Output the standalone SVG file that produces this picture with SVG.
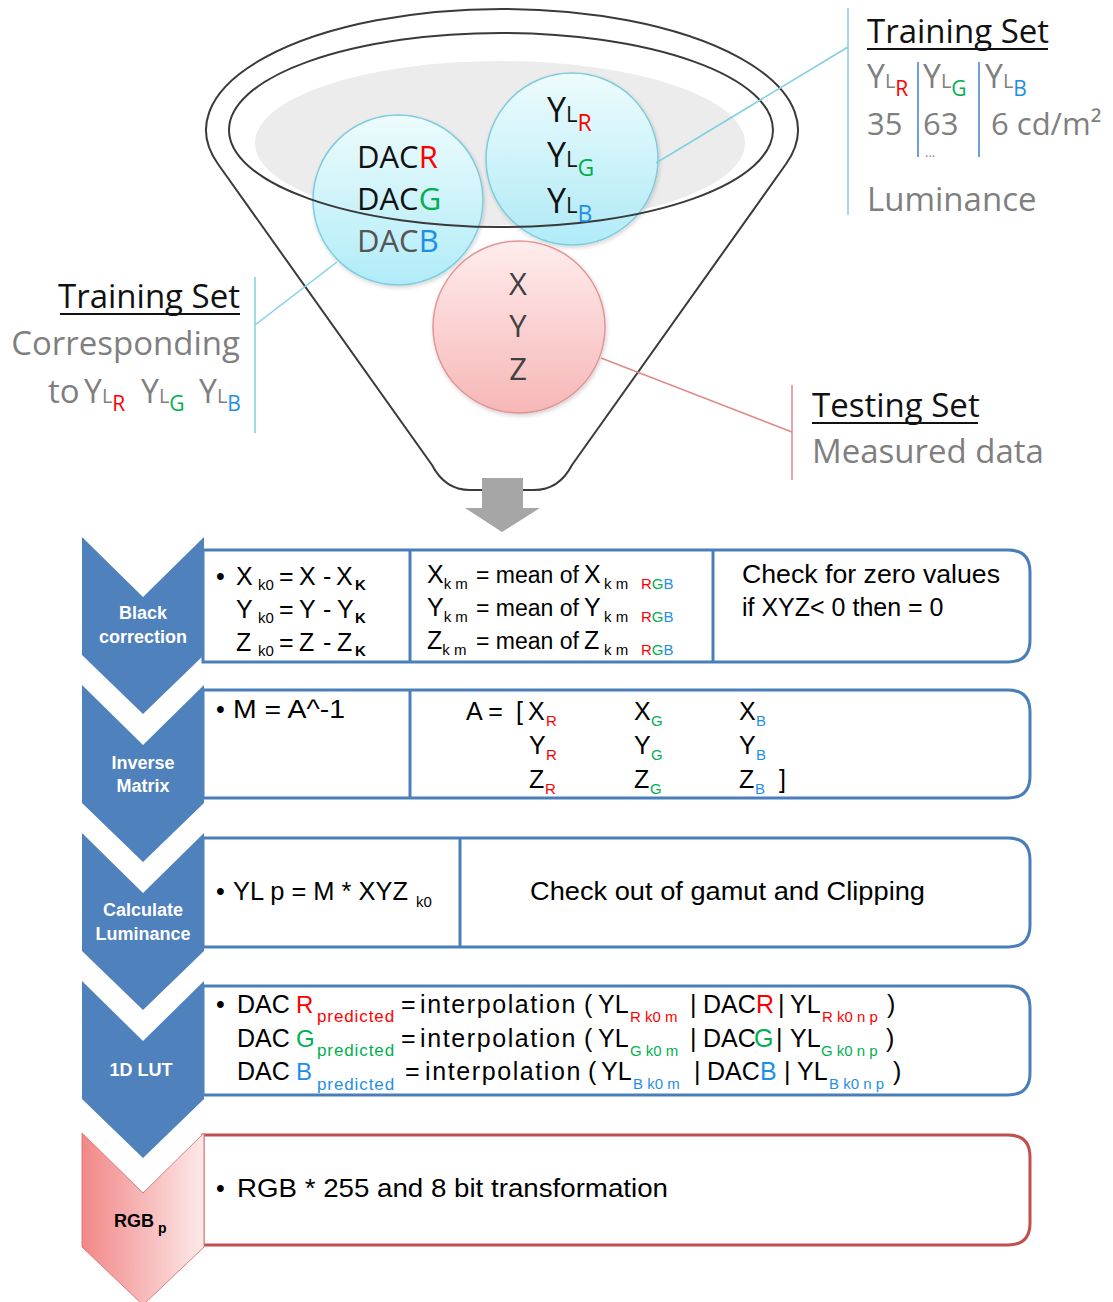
<svg xmlns="http://www.w3.org/2000/svg" width="1113" height="1302" viewBox="0 0 1113 1302">
<defs>
  <linearGradient id="cyan" x1="0" y1="0" x2="0" y2="1">
    <stop offset="0" stop-color="#eefeff"/>
    <stop offset="1" stop-color="#aaeaf8"/>
  </linearGradient>
  <linearGradient id="pink" x1="0" y1="0" x2="0" y2="1">
    <stop offset="0" stop-color="#ffecec"/>
    <stop offset="1" stop-color="#f6b7b7"/>
  </linearGradient>
  <linearGradient id="pinkChev" x1="0" y1="0" x2="1" y2="0">
    <stop offset="0" stop-color="#f28787"/>
    <stop offset="1" stop-color="#fde9e9"/>
  </linearGradient>
  <filter id="sh" x="-20%" y="-20%" width="140%" height="140%">
    <feDropShadow dx="1" dy="2" stdDeviation="2" flood-color="#000" flood-opacity="0.18"/>
  </filter>
</defs>
<style>
  .os{font-family:"Open Sans","Liberation Sans",sans-serif}
  .f{font-family:"Liberation Sans",Arial,sans-serif;font-size:25px;fill:#000}
  .s{font-size:15px}
  .pr{font-size:17px;letter-spacing:0.9px}
  .ip{letter-spacing:1.6px}
  .mo{font-size:23px}
  .cw{font-family:"Liberation Sans",Arial,sans-serif;font-weight:bold;font-size:18px;fill:#fff;text-anchor:middle}
  .r{fill:#ff0000}
  .g{fill:#00b050}
  .b{fill:#1f8fe5}
  .gray{fill:#7f7f7f}
  .box{fill:#fff;stroke:#4a7ebb;stroke-width:3}
  .rbox{fill:#fff;stroke:#c0504d;stroke-width:3}
  .div{stroke:#4a7ebb;stroke-width:3}
  .chev{fill:#4f81bd}
  .cy{stroke:#7fd0e2;stroke-width:1.5;fill:none}
  .rd{stroke:#e08a8a;stroke-width:1.5;fill:none}
  .sep{stroke:#3f7fcf;stroke-width:1.5}
  .ul{stroke:#111;stroke-width:2.2}
</style>

<g id="funnel">
  <path d="M218,164 A296,121 0 1 1 786,164 L572,465 Q559,490 534,490 L470,490 Q445,490 432,465 Z" fill="#fff" stroke="#3a3a3a" stroke-width="2"/>
  <ellipse cx="500" cy="143" rx="245" ry="82" fill="#ececec"/>
</g>

<g id="circle-dac">
  <circle cx="398" cy="200" r="85" fill="url(#cyan)" stroke="#77c8dc" stroke-width="1.5" opacity="0.92" filter="url(#sh)"/>
</g>
<g id="circle-yl">
  <circle cx="572" cy="159" r="86" fill="url(#cyan)" stroke="#77c8dc" stroke-width="1.5" opacity="0.92" filter="url(#sh)"/>
</g>
<g id="circle-xyz">
  <circle cx="519" cy="327" r="86" fill="url(#pink)" stroke="#e39595" stroke-width="1.5" filter="url(#sh)"/>
</g>

<g id="funnel-rim">
  <ellipse cx="501" cy="130" rx="272" ry="97" fill="none" stroke="#3a3a3a" stroke-width="2"/>
</g>

<g id="circle-texts" class="os">
  <text x="357" y="168" font-size="31" fill="#111">DAC<tspan class="r">R</tspan></text>
  <text x="357" y="210" font-size="31" fill="#111">DAC<tspan class="g">G</tspan></text>
  <text x="357" y="252" font-size="31" fill="#555">DAC<tspan class="b">B</tspan></text>

  <text x="547" y="122" fill="#111"><tspan font-size="34">Y</tspan><tspan font-size="22">L</tspan><tspan font-size="23" dy="9" class="r">R</tspan></text>
  <text x="547" y="167" fill="#111"><tspan font-size="34">Y</tspan><tspan font-size="22">L</tspan><tspan font-size="23" dy="9" class="g">G</tspan></text>
  <text x="547" y="213" fill="#111"><tspan font-size="34">Y</tspan><tspan font-size="22">L</tspan><tspan font-size="23" dy="9" class="b">B</tspan></text>

  <text x="518" y="295" font-size="31" fill="#404040" text-anchor="middle">X</text>
  <text x="518" y="337" font-size="31" fill="#404040" text-anchor="middle">Y</text>
  <text x="518" y="380" font-size="31" fill="#404040" text-anchor="middle">Z</text>
</g>

<g id="connectors">
  <line class="cy" x1="656" y1="163" x2="848" y2="47"/>
  <line class="cy" x1="848" y1="8" x2="848" y2="215"/>
  <line class="cy" x1="337" y1="262" x2="255" y2="325"/>
  <line class="cy" x1="255" y1="277" x2="255" y2="433"/>
  <line class="rd" x1="601" y1="358" x2="792" y2="432"/>
  <line class="rd" x1="792" y1="385" x2="792" y2="480"/>
  <path d="M482,478 H523 V508 H540 L502,532 L465,508 H482 Z" fill="#a6a6a6"/>
</g>

<g id="label-training-top" class="os">
  <text x="867" y="43" font-size="33" fill="#111">Training Set</text>
  <line class="ul" x1="867" y1="49" x2="1048" y2="49"/>
  <text x="867" y="88" class="gray"><tspan font-size="32">Y</tspan><tspan font-size="20">L</tspan><tspan font-size="21" dy="8" class="r">R</tspan></text>
  <text x="923" y="88" class="gray"><tspan font-size="32">Y</tspan><tspan font-size="20">L</tspan><tspan font-size="21" dy="8" class="g">G</tspan></text>
  <text x="985" y="88" class="gray"><tspan font-size="32">Y</tspan><tspan font-size="20">L</tspan><tspan font-size="21" dy="8" class="b">B</tspan></text>
  <line class="sep" x1="918" y1="62" x2="918" y2="157"/>
  <line class="sep" x1="979" y1="62" x2="979" y2="157"/>
  <text x="867" y="135" font-size="31" class="gray">35</text>
  <text x="923" y="135" font-size="31" class="gray">63</text>
  <text x="991" y="135" font-size="31" class="gray">6 cd/m²</text>
  <text x="925" y="157" font-size="13" class="gray">...</text>
  <text x="867" y="211" font-size="33" class="gray">Luminance</text>
</g>

<g id="label-training-left" class="os">
  <text x="240" y="308" font-size="33" fill="#111" text-anchor="end">Training Set</text>
  <line class="ul" x1="60" y1="314" x2="240" y2="314"/>
  <text x="240" y="355" font-size="33" class="gray" text-anchor="end">Corresponding</text>
  <text x="48" y="403" font-size="33" class="gray">to</text>
  <text x="84" y="403" class="gray"><tspan font-size="32">Y</tspan><tspan font-size="20">L</tspan><tspan font-size="21" dy="8" class="r">R</tspan></text>
  <text x="141" y="403" class="gray"><tspan font-size="32">Y</tspan><tspan font-size="20">L</tspan><tspan font-size="21" dy="8" class="g">G</tspan></text>
  <text x="199" y="403" class="gray"><tspan font-size="32">Y</tspan><tspan font-size="20">L</tspan><tspan font-size="21" dy="8" class="b">B</tspan></text>
</g>

<g id="label-testing" class="os">
  <text x="812" y="417" font-size="33" fill="#111">Testing Set</text>
  <line class="ul" x1="812" y1="423" x2="978" y2="423"/>
  <text x="812" y="463" font-size="33" class="gray">Measured data</text>
</g>

<g id="row-black-correction">
  <path class="box" d="M203,550 H1008 Q1030,550 1030,572 V640 Q1030,662 1008,662 H203 Z"/>
  <line class="div" x1="410" y1="550" x2="410" y2="662"/>
  <line class="div" x1="713" y1="550" x2="713" y2="662"/>
  <path class="chev" d="M82,537 L143,597 L204,537 L204,655 L143,714 L82,655 Z"/>
  <text class="cw" x="143" y="619">Black</text>
  <text class="cw" x="143" y="643">correction</text>
  <text class="f" x="216" y="585"><tspan x="216">•</tspan><tspan x="236">X</tspan><tspan class="s" x="258" dy="5">k0</tspan><tspan x="279" dy="-5">=</tspan><tspan x="299">X</tspan><tspan x="323">-</tspan><tspan x="336">X</tspan><tspan class="s" font-weight="bold" x="355" dy="5">K</tspan></text>
  <text class="f" x="236" y="618"><tspan x="236">Y</tspan><tspan class="s" x="258" dy="5">k0</tspan><tspan x="279" dy="-5">=</tspan><tspan x="299">Y</tspan><tspan x="323">-</tspan><tspan x="337">Y</tspan><tspan class="s" font-weight="bold" x="355" dy="5">K</tspan></text>
  <text class="f" x="236" y="651"><tspan x="236">Z</tspan><tspan class="s" x="258" dy="5">k0</tspan><tspan x="279" dy="-5">=</tspan><tspan x="299">Z</tspan><tspan x="323">-</tspan><tspan x="337">Z</tspan><tspan class="s" font-weight="bold" x="355" dy="5">K</tspan></text>

  <text class="f" x="427" y="583" font-size="24">X<tspan class="s" dy="6">k m</tspan><tspan class="mo" x="476" dy="-6">= mean of</tspan><tspan x="584">X</tspan><tspan class="s" x="604" dy="6">k m</tspan><tspan class="s r" x="641">R</tspan><tspan class="s g">G</tspan><tspan class="s b">B</tspan></text>
  <text class="f" x="427" y="616" font-size="24">Y<tspan class="s" dy="6">k m</tspan><tspan class="mo" x="476" dy="-6">= mean of</tspan><tspan x="584">Y</tspan><tspan class="s" x="604" dy="6">k m</tspan><tspan class="s r" x="641">R</tspan><tspan class="s g">G</tspan><tspan class="s b">B</tspan></text>
  <text class="f" x="427" y="649" font-size="24">Z<tspan class="s" dy="6">k m</tspan><tspan class="mo" x="476" dy="-6">= mean of</tspan><tspan x="584">Z</tspan><tspan class="s" x="604" dy="6">k m</tspan><tspan class="s r" x="641">R</tspan><tspan class="s g">G</tspan><tspan class="s b">B</tspan></text>

  <text class="f" x="742" y="583" textLength="258" lengthAdjust="spacingAndGlyphs">Check for zero values</text>
  <text class="f" x="742" y="616">if XYZ&lt; 0 then = 0</text>
</g>

<g id="row-inverse-matrix">
  <path class="box" d="M203,690 H1008 Q1030,690 1030,712 V776 Q1030,798 1008,798 H203 Z"/>
  <line class="div" x1="410" y1="690" x2="410" y2="798"/>
  <path class="chev" d="M82,685 L143,745 L204,685 L204,803 L143,862 L82,803 Z"/>
  <text class="cw" x="143" y="769">Inverse</text>
  <text class="cw" x="143" y="792">Matrix</text>
  <text class="f" x="216" y="718">•</text>
  <text class="f" x="233" y="718" textLength="112" lengthAdjust="spacingAndGlyphs">M = A^-1</text>
  <text class="f" x="466" y="720"><tspan x="466">A =</tspan><tspan x="516">[</tspan><tspan x="528">X</tspan><tspan class="s r" x="546" dy="6">R</tspan><tspan x="634" dy="-6">X</tspan><tspan class="s g" x="651" dy="6">G</tspan><tspan x="739" dy="-6">X</tspan><tspan class="s b" x="756" dy="6">B</tspan></text>
  <text class="f" x="529" y="754"><tspan x="529">Y</tspan><tspan class="s r" x="546" dy="6">R</tspan><tspan x="634" dy="-6">Y</tspan><tspan class="s g" x="651" dy="6">G</tspan><tspan x="739" dy="-6">Y</tspan><tspan class="s b" x="756" dy="6">B</tspan></text>
  <text class="f" x="529" y="788"><tspan x="529">Z</tspan><tspan class="s r" x="545" dy="6">R</tspan><tspan x="634" dy="-6">Z</tspan><tspan class="s g" x="650" dy="6">G</tspan><tspan x="739" dy="-6">Z</tspan><tspan class="s b" x="755" dy="6">B</tspan><tspan x="779" dy="-6">]</tspan></text>
</g>

<g id="row-calculate-luminance">
  <path class="box" d="M203,838 H1008 Q1030,838 1030,860 V925 Q1030,947 1008,947 H203 Z"/>
  <line class="div" x1="460" y1="838" x2="460" y2="947"/>
  <path class="chev" d="M82,833 L143,893 L204,833 L204,951 L143,1010 L82,951 Z"/>
  <text class="cw" x="143" y="916">Calculate</text>
  <text class="cw" x="143" y="940">Luminance</text>
  <text class="f" x="216" y="900">•</text>
  <text class="f" x="233" y="900" textLength="175" lengthAdjust="spacingAndGlyphs">YL p = M * XYZ</text>
  <text class="f s" x="416" y="907">k0</text>
  <text class="f" x="530" y="900" textLength="395" lengthAdjust="spacingAndGlyphs">Check out of gamut and Clipping</text>
</g>

<g id="row-1d-lut">
  <path class="box" d="M203,986 H1008 Q1030,986 1030,1008 V1073 Q1030,1095 1008,1095 H203 Z"/>
  <path class="chev" d="M82,981 L143,1041 L204,981 L204,1099 L143,1158 L82,1099 Z"/>
  <text class="cw" x="141" y="1076">1D LUT</text>

  <text class="f" x="216" y="1013">•</text>
  <text class="f" x="237" y="1013">DAC<tspan class="r" x="296" font-size="24">R</tspan><tspan class="r pr" x="317" dy="9">predicted</tspan><tspan x="401" dy="-9">=</tspan><tspan class="ip" x="420">interpolation</tspan><tspan x="584">(</tspan><tspan x="598">YL</tspan><tspan class="s r" x="630" dy="9">R k0 m</tspan><tspan x="690" dy="-9">|</tspan><tspan x="703">DAC</tspan><tspan class="r" x="756">R</tspan><tspan x="778">|</tspan><tspan x="790">YL</tspan><tspan class="s r" x="822" dy="9">R k0 n p</tspan><tspan x="887" dy="-9">)</tspan></text>

  <text class="f" x="237" y="1047">DAC<tspan class="g" x="296" font-size="24">G</tspan><tspan class="g pr" x="317" dy="9">predicted</tspan><tspan x="401" dy="-9">=</tspan><tspan class="ip" x="420">interpolation</tspan><tspan x="584">(</tspan><tspan x="598">YL</tspan><tspan class="s g" x="630" dy="9">G k0 m</tspan><tspan x="690" dy="-9">|</tspan><tspan x="703">DAC</tspan><tspan class="g" x="754">G</tspan><tspan x="776">|</tspan><tspan x="790">YL</tspan><tspan class="s g" x="821" dy="9">G k0 n p</tspan><tspan x="886" dy="-9">)</tspan></text>

  <text class="f" x="237" y="1080">DAC<tspan class="b" x="296" font-size="24">B</tspan><tspan class="b pr" x="317" dy="10">predicted</tspan><tspan x="405" dy="-10">=</tspan><tspan class="ip" x="425">interpolation</tspan><tspan x="588">(</tspan><tspan x="601">YL</tspan><tspan class="s b" x="633" dy="9">B k0 m</tspan><tspan x="694" dy="-9">|</tspan><tspan x="707">DAC</tspan><tspan class="b" x="760">B</tspan><tspan x="784">|</tspan><tspan x="797">YL</tspan><tspan class="s b" x="829" dy="9">B k0 n p</tspan><tspan x="893" dy="-9">)</tspan></text>
</g>

<g id="row-rgbp">
  <path class="rbox" d="M203,1135 H1008 Q1030,1135 1030,1157 V1223 Q1030,1245 1008,1245 H203 Z"/>
  <path d="M82,1133 L143,1193 L204,1133 L204,1247 L143,1305 L82,1247 Z" fill="url(#pinkChev)" stroke="#e07b7b" stroke-width="1"/>
  <text x="114" y="1227" font-family="Liberation Sans, Arial, sans-serif" font-weight="bold" font-size="18" fill="#000">RGB<tspan dy="6" font-size="14"> p</tspan></text>
  <text class="f" x="216" y="1197">•</text>
  <text class="f" x="237" y="1197" font-size="27" textLength="431" lengthAdjust="spacingAndGlyphs">RGB * 255 and 8 bit transformation</text>
</g>
</svg>
